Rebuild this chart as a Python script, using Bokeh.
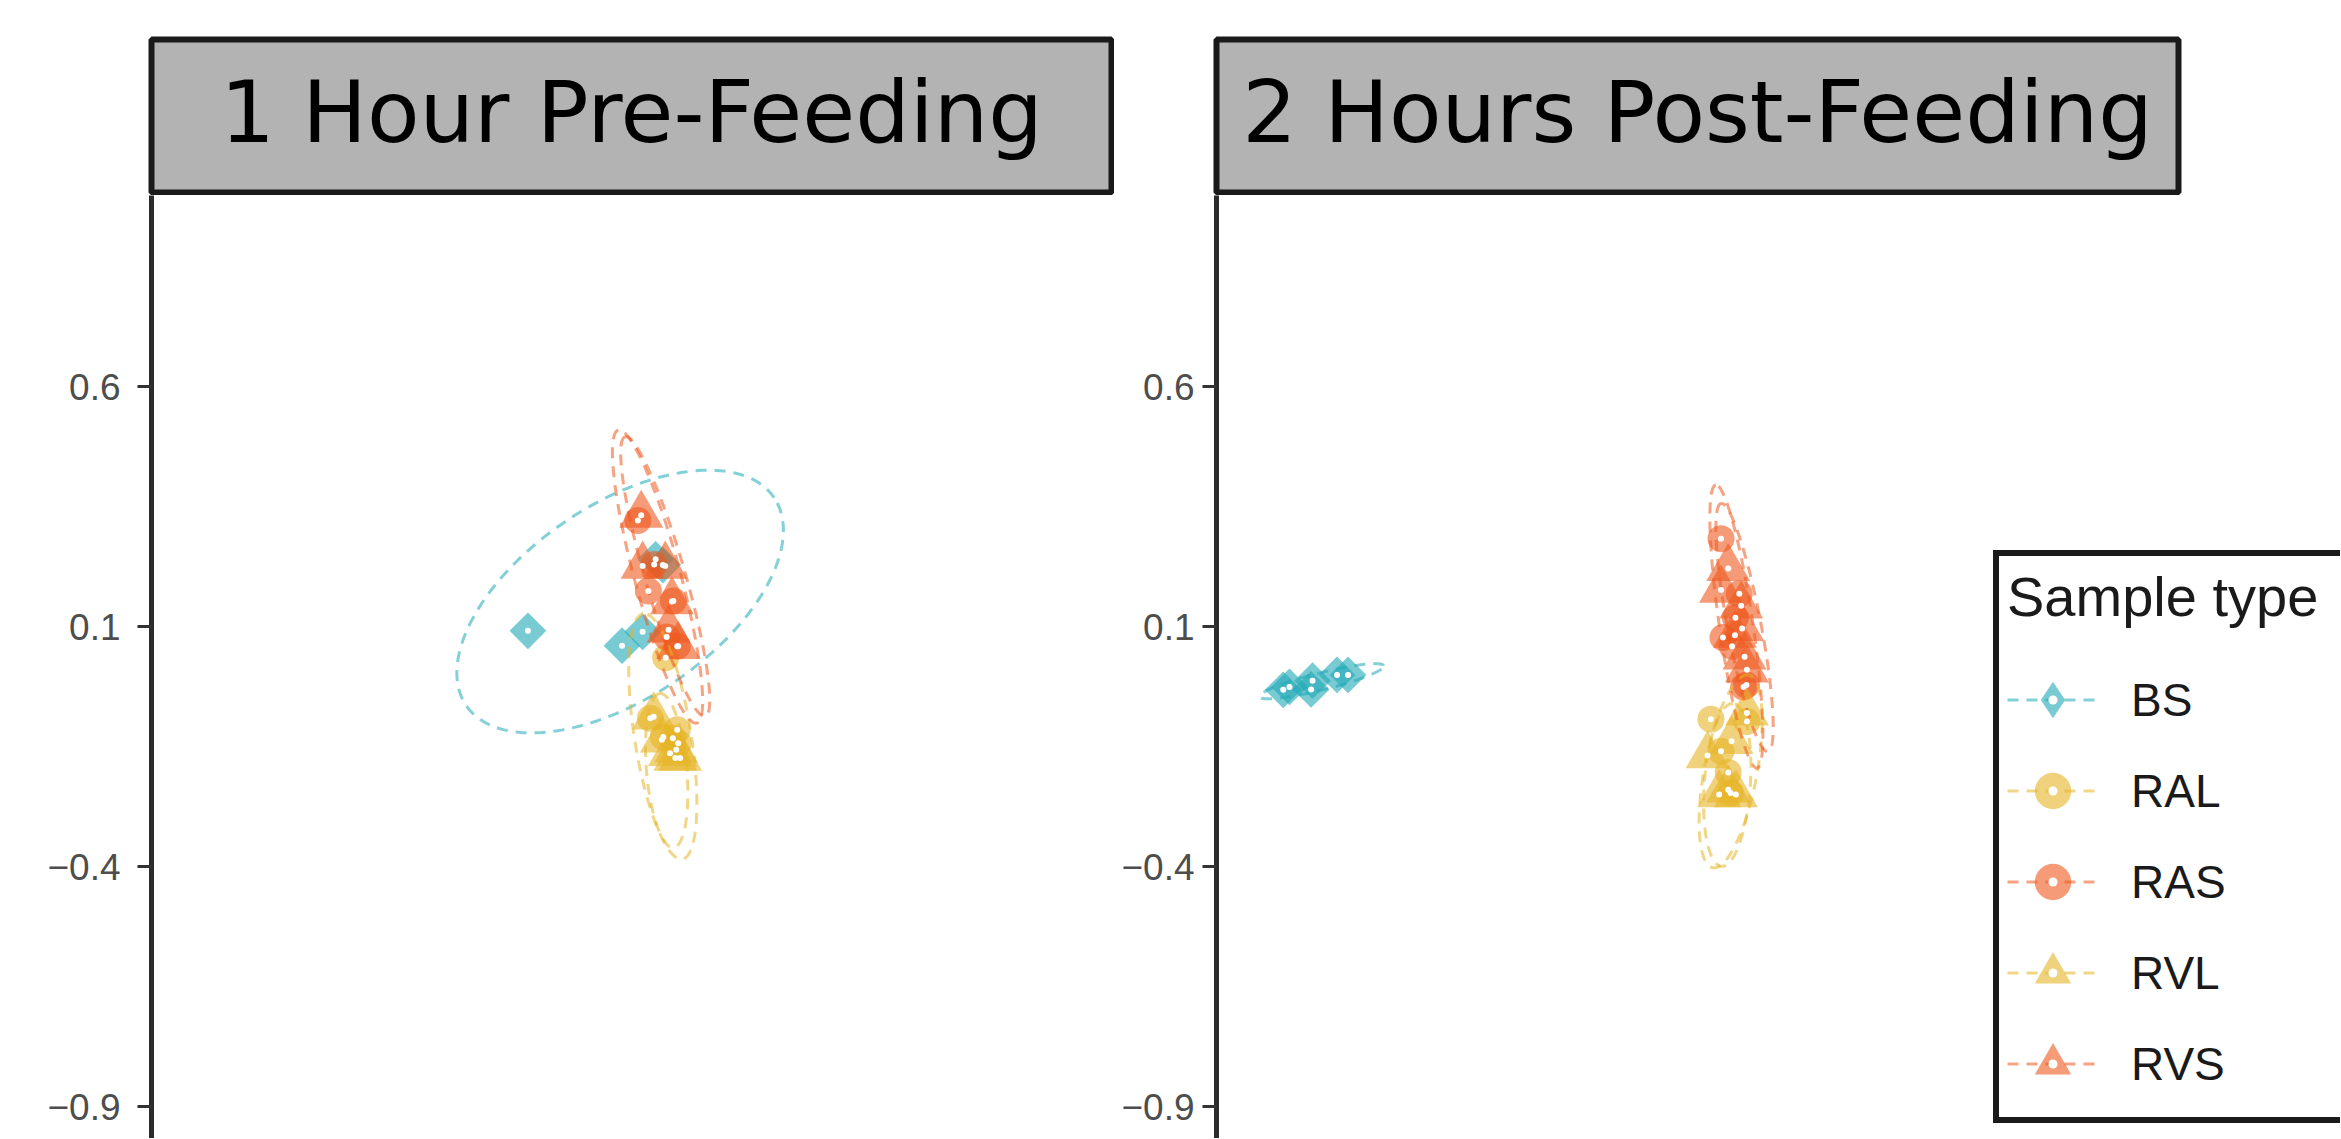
import numpy as np
from bokeh.plotting import figure
from bokeh.layouts import row, column
from bokeh.models import Legend, LegendItem, FixedTicker, Range1d, ColumnDataSource
from bokeh.core.properties import value
from bokeh.embed import file_html
from bokeh.resources import INLINE

PANELS = ["1 Hour Pre-Feeding", "2 Hours Post-Feeding"]
GROUPS = ["BS", "RAL", "RAS", "RVL", "RVS"]
Y_TICKS = [0.6, 0.1, -0.4, -0.9]
Y_TICK_LABELS = ["0.6", "0.1", "\u22120.4", "\u22120.9"]
LEGEND_TITLE = "Sample type"

# ---- 1 Hour Pre-Feeding: points ----
pre_BS_x = [-0.222, -0.026, 0.017, 0.044, 0.059]
pre_BS_y = [0.091, 0.060, 0.089, 0.240, 0.228]
pre_RAL_x = [0.065, 0.033, 0.060, 0.089, 0.080, 0.091]
pre_RAL_y = [0.035, -0.091, -0.130, -0.115, -0.133, -0.143]
pre_RAS_x = [0.007, 0.041, 0.029, 0.081, 0.067, 0.089]
pre_RAS_y = [0.321, 0.229, 0.174, 0.153, 0.078, 0.059]
pre_RVL_x = [0.040, 0.057, 0.087, 0.085, 0.095, 0.074]
pre_RVL_y = [-0.088, -0.136, -0.157, -0.174, -0.174, -0.164]
pre_RVS_x = [0.014, 0.017, 0.064, 0.078, 0.071, 0.091]
pre_RVS_y = [0.332, 0.226, 0.226, 0.152, 0.093, 0.059]

# ---- 2 Hours Post-Feeding: points ----
post_BS_x = [-0.863, -0.850, -0.802, -0.805, -0.751, -0.728]
post_BS_y = [-0.032, -0.026, -0.013, -0.031, -0.001, -0.001]
post_RAL_x = [0.028, 0.103, 0.049, 0.064, 0.069]
post_RAL_y = [-0.093, -0.098, -0.160, -0.204, -0.247]
post_RAS_x = [0.049, 0.087, 0.079, 0.053, 0.072, 0.102, 0.096]
post_RAS_y = [0.283, 0.168, 0.118, 0.077, 0.059, -0.022, -0.026]
post_RVL_x = [0.103, 0.071, 0.021, 0.064, 0.045, 0.080]
post_RVL_y = [-0.080, -0.139, -0.169, -0.240, -0.250, -0.250]
post_RVS_x = [0.064, 0.049, 0.091, 0.093, 0.078, 0.098, 0.103]
post_RVS_y = [0.221, 0.176, 0.143, 0.096, 0.082, 0.037, 0.010]

# ---- confidence ellipses (GROUPS order): centre, semi-axes, angle (deg) ----
pre_ell_cx = [-0.030, 0.059, 0.048, 0.067, 0.064]
pre_ell_cy = [0.152, -0.129, 0.204, -0.200, 0.204]
pre_ell_a = [0.387, 0.259, 0.316, 0.161, 0.303]
pre_ell_b = [0.202, 0.059, 0.048, 0.042, 0.042]
pre_ell_ang = [34.0, 99.0, 105.0, 95.0, 106.0]

post_ell_cx = [-0.783, 0.069, 0.081, 0.062, 0.098]
post_ell_cy = [-0.014, -0.202, 0.100, -0.230, 0.098]
post_ell_a = [0.133, 0.204, 0.298, 0.170, 0.263]
post_ell_b = [0.018, 0.055, 0.035, 0.048, 0.035]
post_ell_ang = [14.0, 79.5, 98.3, 86.0, 100.7]

PRE = {
    "BS": (pre_BS_x, pre_BS_y), "RAL": (pre_RAL_x, pre_RAL_y), "RAS": (pre_RAS_x, pre_RAS_y),
    "RVL": (pre_RVL_x, pre_RVL_y), "RVS": (pre_RVS_x, pre_RVS_y),
}
POST = {
    "BS": (post_BS_x, post_BS_y), "RAL": (post_RAL_x, post_RAL_y), "RAS": (post_RAS_x, post_RAS_y),
    "RVL": (post_RVL_x, post_RVL_y), "RVS": (post_RVS_x, post_RVS_y),
}
PRE_ELL = (pre_ell_cx, pre_ell_cy, pre_ell_a, pre_ell_b, pre_ell_ang)
POST_ELL = (post_ell_cx, post_ell_cy, post_ell_a, post_ell_b, post_ell_ang)

# ---- styles ----
TEAL, YELLOW, ORANGE = "#1FA9B6", "#E6B426", "#EE581E"
COLOR = {"BS": TEAL, "RAL": YELLOW, "RAS": ORANGE, "RVL": YELLOW, "RVS": ORANGE}
MARKER = {"BS": "square", "RAL": "circle", "RAS": "circle", "RVL": "triangle", "RVS": "triangle"}
LEGEND_MARKER = {"BS": "diamond", "RAL": "circle", "RAS": "circle", "RVL": "triangle", "RVS": "triangle"}
SIZE = {"BS": 26, "RAL": 27, "RAS": 27, "RVL": 44, "RVS": 44}
ANGLE = {"BS": np.pi / 4, "RAL": 0.0, "RAS": 0.0, "RVL": 0.0, "RVS": 0.0}

PX_PER_UNIT = 480.0
FRAME_H = 943
Y_TOP = 0.6 + 191 / PX_PER_UNIT
Y_BOT = Y_TOP - FRAME_H / PX_PER_UNIT
SANS = "Liberation Sans"


def ellipse_path(cx, cy, a, b, ang_deg, n=241):
    t = np.linspace(0, 2 * np.pi, n)
    th = np.deg2rad(ang_deg)
    ex = cx + a * np.cos(t) * np.cos(th) - b * np.sin(t) * np.sin(th)
    ey = cy + a * np.cos(t) * np.sin(th) + b * np.sin(t) * np.cos(th)
    return ex, ey


def make_strip(title, left, fw, right):
    s = figure(frame_width=fw, frame_height=153, min_border_left=left, min_border_right=right,
               min_border_top=39, min_border_bottom=3, x_range=Range1d(0, 1), y_range=Range1d(0, 1),
               x_axis_location=None, y_axis_location=None, toolbar_location=None,
               output_backend="svg")
    s.grid.visible = False
    s.background_fill_color = "#B3B3B3"
    s.border_fill_color = "white"
    s.outline_line_color = "#1A1A1A"
    s.outline_line_width = 6
    s.text(x=[0.5], y=[0.525], text=[title], text_align="center", text_baseline="middle",
           text_font=value("DejaVu Sans"), text_font_size="86px", text_color="black")
    return s


def make_panel(data, ell, left, fw, right, x_half, standoff):
    x_left = -x_half
    x_right = x_left + fw / PX_PER_UNIT
    p = figure(frame_width=fw, frame_height=FRAME_H, min_border_left=left, min_border_right=right,
               min_border_top=0, min_border_bottom=0, x_range=Range1d(x_left, x_right),
               y_range=Range1d(Y_BOT, Y_TOP), x_axis_location=None, toolbar_location=None,
               output_backend="svg")
    p.grid.visible = False
    p.outline_line_color = None
    p.background_fill_color = "white"
    ax = p.yaxis[0]
    ax.ticker = FixedTicker(ticks=Y_TICKS)
    ax.major_label_overrides = {t: l for t, l in zip(Y_TICKS, Y_TICK_LABELS)}
    ax.major_label_text_font = SANS
    ax.major_label_text_font_size = "37px"
    ax.major_label_text_color = "#4D4D4D"
    ax.major_label_standoff = standoff
    ax.axis_line_width = 5
    ax.axis_line_color = "#2B2B2B"
    ax.major_tick_line_width = 3
    ax.major_tick_line_color = "#333333"
    ax.major_tick_out = 14
    ax.major_tick_in = 0
    ax.minor_tick_line_color = None

    rends = {}
    srcs = {}
    for g in GROUPS:
        gx, gy = data[g]
        src = ColumnDataSource(dict(x=gx, y=gy))
        srcs[g] = src
        p.scatter("x", "y", source=src, marker=MARKER[g], size=SIZE[g], angle=ANGLE[g],
                  fill_color=COLOR[g], fill_alpha=0.6, line_color=None)
        leg_m = p.scatter("x", "y", source=src, marker=LEGEND_MARKER[g], size=SIZE[g],
                          fill_color=COLOR[g], fill_alpha=0.6, line_color=None, visible=False)
        rends[g] = [leg_m]
    for i, g in enumerate(GROUPS):
        ex, ey = ellipse_path(ell[0][i], ell[1][i], ell[2][i], ell[3][i], ell[4][i])
        ln = p.line(ex, ey, line_color=COLOR[g], line_alpha=0.55, line_width=3, line_dash="11 8")
        rends[g].append(ln)
    for g in GROUPS:
        p.scatter("x", "y", source=srcs[g], marker="circle", size=6, fill_color="white",
                  line_color=None)
        d = p.scatter("x", "y", source=srcs[g], marker="dot", size=10, line_color="white",
                      line_alpha=1.0, visible=False)
        rends[g].append(d)
    return p, rends


# column 1: x 0..1114 ; column 2: 1114..2340
strip1 = make_strip(PANELS[0], 151, 960, 3)
panel1, _ = make_panel(PRE, PRE_ELL, 148, 966, 0, 966 / 2 / PX_PER_UNIT, 17)
strip2 = make_strip(PANELS[1], 102, 962, 160)
panel2, rends2 = make_panel(POST, POST_ELL, 102, 1124, 0, 962 / 2 / PX_PER_UNIT, 8)

items = [LegendItem(label=g, renderers=rends2[g]) for g in GROUPS]
legend = Legend(items=items, location=(777, 15), title=LEGEND_TITLE,
                title_text_font=SANS, title_text_font_size="56px", title_text_color="#1A1A1A",
                title_text_font_style="normal", title_standoff=25,
                label_text_font=SANS, label_text_font_size="46px", label_text_color="#1A1A1A",
                glyph_width=91, glyph_height=91, spacing=0, label_width=250,
                padding=8, margin=0, label_standoff=33, border_line_color="#1A1A1A",
                border_line_alpha=1.0, border_line_width=6, background_fill_color="white",
                background_fill_alpha=1.0)
panel2.add_layout(legend)

layout = row(column(strip1, panel1), column(strip2, panel2))

open("out.html", "w").write(file_html(layout, INLINE))
